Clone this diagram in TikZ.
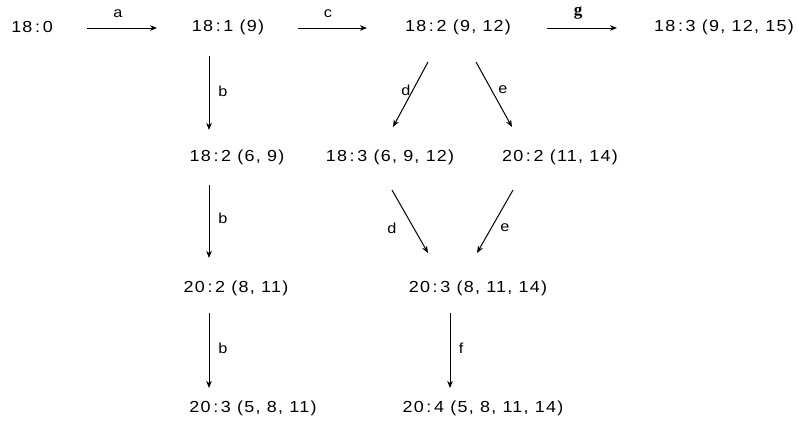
\documentclass[tikz,border=0pt]{standalone}
\usepackage{fontspec}
\setmainfont{Liberation Sans}[FakeStretch=1.12,LetterSpace=8]
\newfontfamily\serifg{Liberation Serif}
\usetikzlibrary{arrows.meta}
\begin{document}
\begin{tikzpicture}[x=1pt,y=-1pt,
  st/.style={inner sep=0pt,font=\fontsize{16}{20}\selectfont},
  lbl/.style={inner sep=0pt,font=\fontsize{14.5}{17}\selectfont},
  arr/.style={line width=1pt,-{Stealth[length=7pt,width=5.5pt,inset=2pt]}}]
\useasboundingbox (0,0) rectangle (799,426);
% states
\node[st] (n0)  at (32,27)  {18\,:\,0};
\node[st] (n1)  at (228,27) {18\,:\,1 (9)};
\node[st] (n2)  at (458,27) {18\,:\,2 (9, 12)};
\node[st] (n3)  at (724,27) {18\,:\,3 (9, 12, 15)};
\node[st] (n21) at (237,157) {18\,:\,2 (6, 9)};
\node[st] (n22) at (390,157) {18\,:\,3 (6, 9, 12)};
\node[st] (n23) at (560,157) {20\,:\,2 (11, 14)};
\node[st] (n31) at (236,288) {20\,:\,2 (8, 11)};
\node[st] (n32) at (478,288) {20\,:\,3 (8, 11, 14)};
\node[st] (n41) at (253,408) {20\,:\,3 (5, 8, 11)};
\node[st] (n42) at (483,408) {20\,:\,4 (5, 8, 11, 14)};
% arrows
\draw[arr] ([shift={(55,1)}]n0.center) -- ([shift={(-71,1)}]n1.center);
\draw[arr] ([shift={(70,1)}]n1.center) -- ([shift={(-91,1)}]n2.center);
\draw[arr] ([shift={(89,1)}]n2.center) -- ([shift={(-107,1)}]n3.center);
\draw[arr] ([shift={(-19,29)}]n1.center) -- ([shift={(-28,-27)}]n21.center);
\draw[arr] ([shift={(-30,35)}]n2.center) -- ([shift={(3,-30)}]n22.center);
\draw[arr] ([shift={(18,35)}]n2.center) -- ([shift={(-48,-30)}]n23.center);
\draw[arr] ([shift={(-28,28)}]n21.center) -- ([shift={(-27,-30)}]n31.center);
\draw[arr] ([shift={(2,33)}]n22.center) -- ([shift={(-50,-35)}]n32.center);
\draw[arr] ([shift={(-47,33)}]n23.center) -- ([shift={(-1,-35)}]n32.center);
\draw[arr] ([shift={(-27,25)}]n31.center) -- ([shift={(-44,-20)}]n41.center);
\draw[arr] ([shift={(-28,25)}]n32.center) -- ([shift={(-33,-20)}]n42.center);
% labels
\node[lbl] (la) at (118,14) {a};
\node[lbl] (lc) at (328,14) {c};
\node[inner sep=0pt,font=\serifg\bfseries\fontsize{17}{19}\selectfont] (lg) at (578,13) {g};
\node[lbl] (lb1) at (223,91) {b};
\node[lbl] (lb2) at (223,218) {b};
\node[lbl] (lb3) at (223,348) {b};
\node[lbl] (ld1) at (406,90) {d};
\node[lbl] (le1) at (503,90) {e};
\node[lbl] (ld2) at (392,228) {d};
\node[lbl] (le2) at (505,228) {e};
\node[lbl] (lf) at (461,348) {f};
\end{tikzpicture}
\end{document}
